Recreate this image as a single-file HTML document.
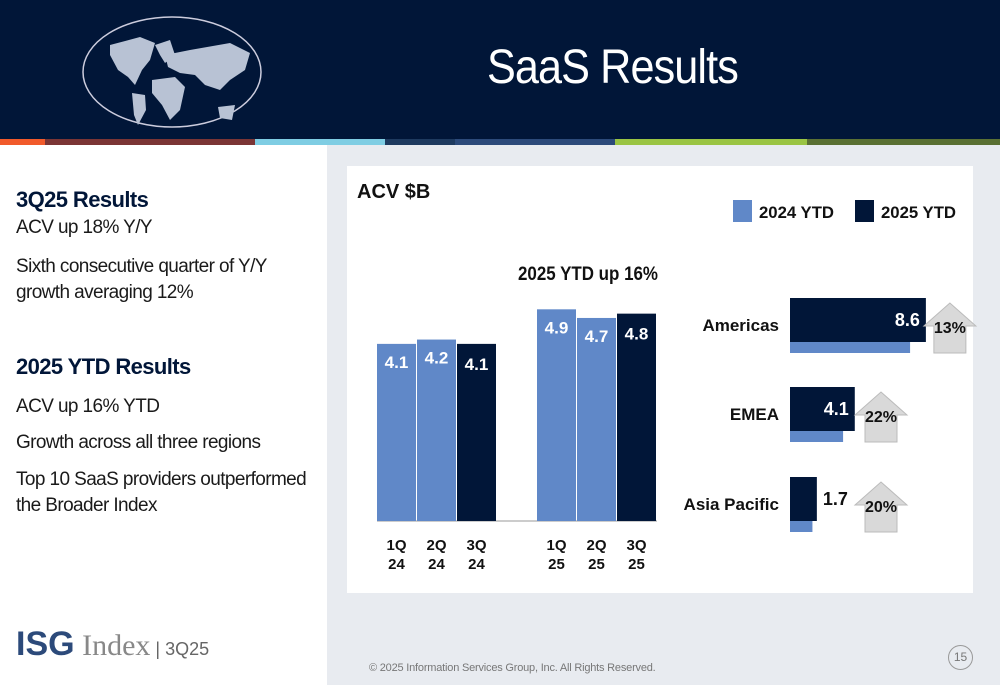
<!DOCTYPE html>
<html><head><meta charset="utf-8">
<style>
*{margin:0;padding:0;box-sizing:border-box}
body{width:1000px;height:685px;position:relative;overflow:hidden;background:#fff;font-family:"Liberation Sans Narrow","Liberation Sans",sans-serif}
.hdr{position:absolute;left:0;top:0;width:1000px;height:139px;background:#011638}
.title{position:absolute;left:487px;top:40px;font-size:48px;color:#fff;font-family:"Liberation Sans",sans-serif;letter-spacing:-1px;transform:scaleX(0.9);transform-origin:left}
.stripe{position:absolute;top:139px;height:6px}
.rp{position:absolute;left:327px;top:145px;width:673px;height:540px;background:#e8ebf0}
.card{position:absolute;left:347px;top:166px;width:626px;height:427px;background:#fff}
.lt{position:absolute;left:16px;color:#1a1a1a;font-size:19px;letter-spacing:-0.6px;line-height:26px}
.lh{font-weight:bold;color:#011638;font-size:22px}
.foot{position:absolute;font-size:12px;color:#777}
</style></head><body>
<div class="hdr">
<svg width="280" height="139" style="position:absolute;left:80px;top:15px">
<ellipse cx="92" cy="57" rx="89" ry="55" fill="none" stroke="#ccd" stroke-width="1.5"/>
<path d="M30,30 L60,22 L75,28 L70,45 L62,55 L55,70 L48,62 L38,55 L30,40Z M52,78 L65,80 L66,95 L58,110 L54,100Z M75,30 L90,25 L95,40 L85,48 L80,40Z M85,40 L110,35 L150,28 L170,38 L165,55 L150,65 L140,75 L125,70 L115,60 L100,58 L88,52Z M72,65 L95,62 L105,72 L100,95 L90,105 L82,90 L72,78Z M138,92 L155,90 L152,105 L140,103Z" fill="#b8c2d4"/>
</svg>
<div class="title">SaaS Results</div>
</div>
<div class="stripe" style="left:0;width:45px;background:#f15a2b"></div>
<div class="stripe" style="left:45px;width:210px;background:#7b3535"></div>
<div class="stripe" style="left:255px;width:130px;background:#7fcde3"></div>
<div class="stripe" style="left:385px;width:70px;background:#1e3a5f"></div>
<div class="stripe" style="left:455px;width:160px;background:#2c4a7a"></div>
<div class="stripe" style="left:615px;width:192px;background:#9ac443"></div>
<div class="stripe" style="left:807px;width:193px;background:#5a7033"></div>

<div class="lt lh" style="top:187px">3Q25 Results</div>
<div class="lt" style="top:215px">ACV up 18% Y/Y</div>
<div class="lt" style="top:254px">Sixth consecutive quarter of Y/Y<br>growth averaging 12%</div>
<div class="lt lh" style="top:354px">2025 YTD Results</div>
<div class="lt" style="top:394px">ACV up 16% YTD</div>
<div class="lt" style="top:430px">Growth across all three regions</div>
<div class="lt" style="top:467px">Top 10 SaaS providers outperformed<br>the Broader Index</div>

<div class="rp"></div>
<div class="card"></div>

<svg id="chart" width="1000" height="685" style="position:absolute;left:0;top:0" font-family="Liberation Sans Narrow, Liberation Sans, sans-serif">
<text x="357" y="198" font-size="20" font-weight="bold" fill="#111">ACV $B</text>
<rect x="733" y="200" width="19" height="22" fill="#6088c8"/>
<text x="759" y="218" font-size="17" font-weight="bold" fill="#111" textLength="75" lengthAdjust="spacingAndGlyphs">2024 YTD</text>
<rect x="855" y="200" width="19" height="22" fill="#011638"/>
<text x="881" y="218" font-size="17" font-weight="bold" fill="#111" textLength="75" lengthAdjust="spacingAndGlyphs">2025 YTD</text>
<text x="588" y="280" font-size="19" font-weight="bold" fill="#111" text-anchor="middle" textLength="140" lengthAdjust="spacingAndGlyphs">2025 YTD up 16%</text>
<g id="bars"></g><g id="hbars"></g>
</svg>

<div class="foot" style="left:16px;top:625px;font-size:34px;font-weight:bold;color:#2c4a7a;font-family:'Liberation Sans',sans-serif">ISG<span style="font-weight:normal;color:#888;font-family:'Liberation Serif',serif;font-size:30px"> Index</span><span style="font-size:18px;font-weight:normal;color:#666"> | 3Q25</span></div>
<div class="foot" style="left:369px;top:662px;font-size:11px;letter-spacing:-0.2px">© 2025 Information Services Group, Inc.  All Rights Reserved.</div>
<div class="foot" style="left:948px;top:645px;width:25px;height:25px;border:1px solid #999;border-radius:50%;text-align:center;line-height:23px">15</div>

<script>
const quarters=["1Q\n24","2Q\n24","3Q\n24","1Q\n25","2Q\n25","3Q\n25"];
const quarterValues=[4.1,4.2,4.1,4.9,4.7,4.8];
const quarterDark=[false,false,true,false,false,true];
const regions=["Americas","EMEA","Asia Pacific"];
const ytd2025=[8.6,4.1,1.7];
const ytd2024=[7.6,3.36,1.42];
const growthLabels=["13%","22%","20%"];
const NS="http://www.w3.org/2000/svg";
function mk(t,a,p){const e=document.createElementNS(NS,t);for(const k in a)e.setAttribute(k,a[k]);p.appendChild(e);return e;}
const base=521, ppu=43.2;
const yS=v=>base-v*ppu;
const xS=i=>377+i*40+(i>=3?40:0);
const g=document.getElementById('bars');
mk('line',{x1:377,x2:657,y1:base,y2:base,stroke:'#ccc','stroke-width':2},g);
quarterValues.forEach((v,i)=>{
 const r=mk('rect',{x:xS(i),y:yS(v),width:39,height:base-yS(v),fill:quarterDark[i]?'#011638':'#6088c8'},g);
 
 
 const t=mk('text',{x:xS(i)+19.5,y:yS(v)+(quarterDark[i]?26:24),'font-size':17,'font-weight':'bold',fill:'#fff','text-anchor':'middle'},g);
 t.textContent=v.toFixed(1);
 
 
 const parts=quarters[i].split('\n');
 parts.forEach((p,j)=>{const l=mk('text',{x:xS(i)+19.5,y:550+j*19,'font-size':15,'font-weight':'bold',fill:'#111','text-anchor':'middle'},g);l.textContent=p;
 
 });
});
const h=document.getElementById('hbars');
const x0=790, hp=15.8;
const xH=v=>x0+v*hp;
const rowTop=[298,387,477];
regions.forEach((r,i)=>{
 const y=rowTop[i];
 const lb=mk('rect',{x:x0,y:y+43,width:xH(ytd2024[i])-x0,height:12,fill:'#6088c8'},h);
 
 
 const db=mk('rect',{x:x0,y:y,width:xH(ytd2025[i])-x0,height:44,fill:'#011638'},h);
 
 
 const rl=mk('text',{x:779,y:y+33,'font-size':17,'font-weight':'bold',fill:'#111','text-anchor':'end'},h);rl.textContent=r;
 
 
 const w=xH(ytd2025[i])-x0, inside=w>40;
 const vl=mk('text',{x:inside?xH(ytd2025[i])-6:xH(ytd2025[i])+6,y:y+28,'font-size':18,'font-weight':'bold',fill:inside?'#fff':'#111','text-anchor':inside?'end':'start'},h);vl.textContent=ytd2025[i].toFixed(1);
 
 
 const ax=Math.max(xH(ytd2025[i])+24,881), ay=y+5;
 const ar=mk('path',{d:`M${ax-26},${ay+23} L${ax},${ay} L${ax+26},${ay+23} L${ax+16},${ay+23} L${ax+16},${ay+50} L${ax-16},${ay+50} L${ax-16},${ay+23}Z`,fill:'#d9d9d9',stroke:'#bbb','stroke-width':1},h);
 
 
 const gl=mk('text',{x:ax,y:ay+30,'font-size':16,'font-weight':'bold',fill:'#111','text-anchor':'middle'},h);gl.textContent=growthLabels[i];
 
 
});
</script>
</body></html>
